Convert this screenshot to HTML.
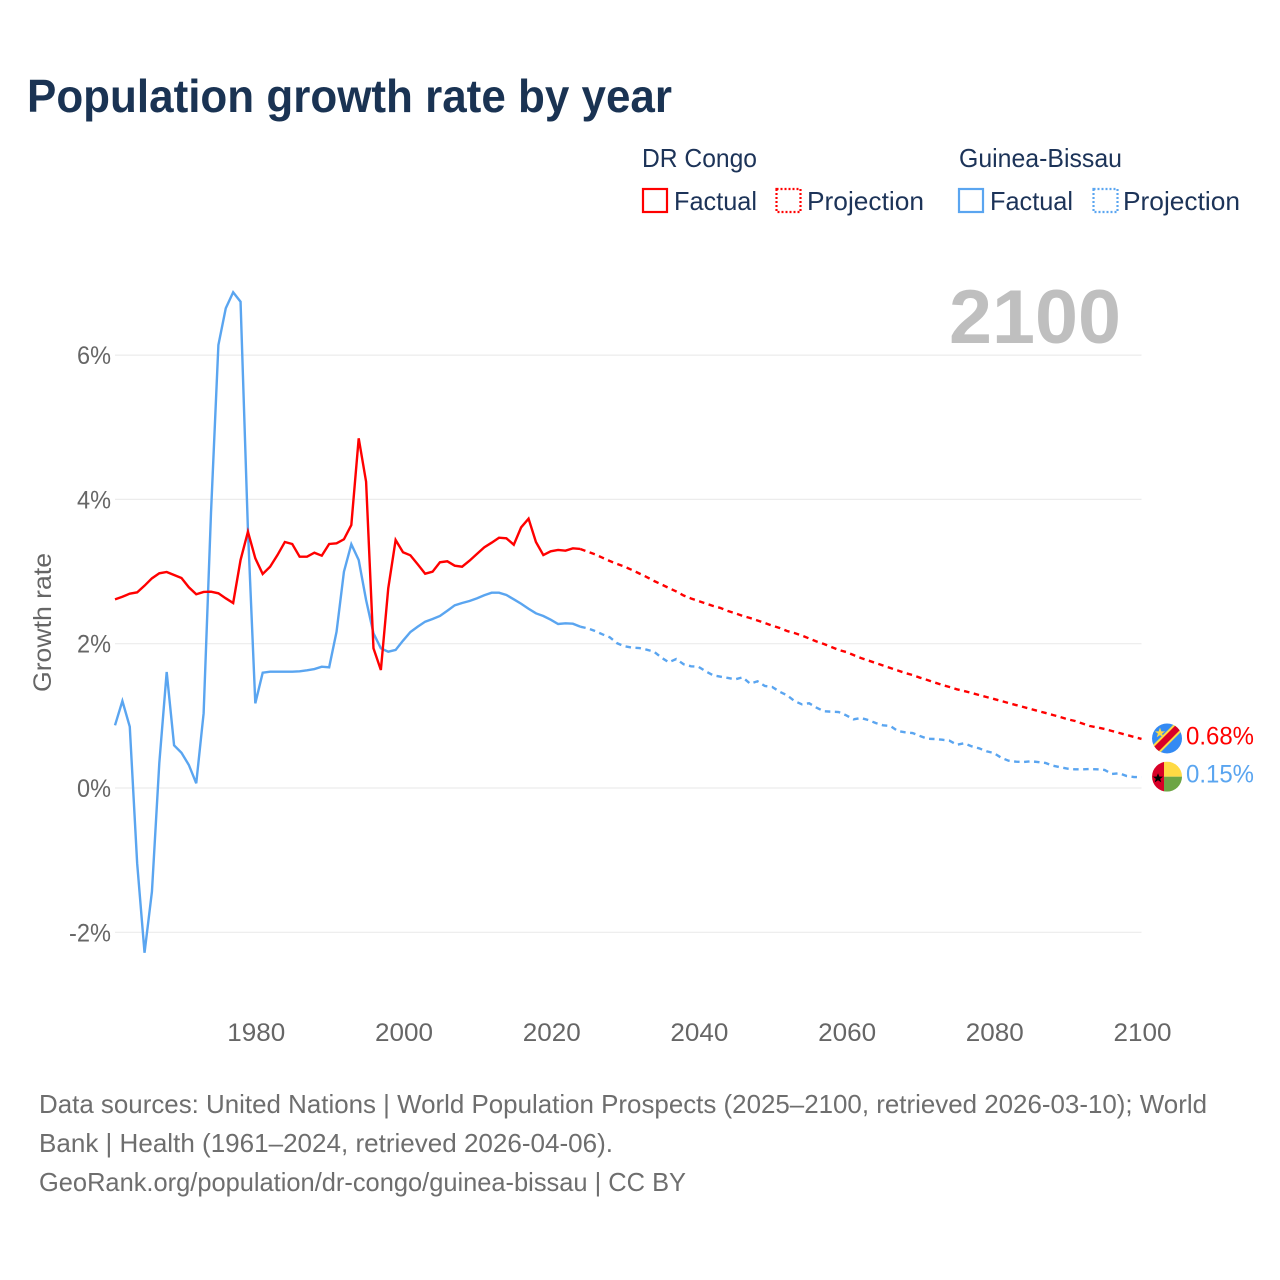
<!DOCTYPE html>
<html lang="en">
<head>
<meta charset="utf-8">
<title>Population growth rate by year</title>
<style>
  html, body { margin: 0; padding: 0; background: #fff; }
  svg { display: block; }
  text { font-family: "Liberation Sans", sans-serif; }
</style>
</head>
<body>
<svg id="chart" xmlns="http://www.w3.org/2000/svg" width="1280" height="1280" viewBox="0 0 1280 1280">
  <rect x="0" y="0" width="1280" height="1280" fill="#ffffff"/>
  <text x="27" y="112" font-size="46" font-weight="700" fill="#1a3353" textLength="645" lengthAdjust="spacingAndGlyphs">Population growth rate by year</text>

  <g font-size="26" fill="#1c3358">
    <text x="642" y="167" textLength="115" lengthAdjust="spacingAndGlyphs">DR Congo</text>
    <text x="959" y="167" textLength="163" lengthAdjust="spacingAndGlyphs">Guinea-Bissau</text>
    <rect x="643" y="189" width="24" height="23" fill="none" stroke="#ff0000" stroke-width="2.2"/>
    <text x="674" y="210" textLength="83" lengthAdjust="spacingAndGlyphs">Factual</text>
    <rect x="776.5" y="189" width="24" height="23" fill="none" stroke="#ff0000" stroke-width="2.2" stroke-dasharray="2 2"/>
    <text x="807" y="210" textLength="117" lengthAdjust="spacingAndGlyphs">Projection</text>
    <rect x="959" y="189" width="24" height="23" fill="none" stroke="#5aa5f0" stroke-width="2.2"/>
    <text x="990" y="210" textLength="83" lengthAdjust="spacingAndGlyphs">Factual</text>
    <rect x="1093.5" y="189" width="24" height="23" fill="none" stroke="#5aa5f0" stroke-width="2.2" stroke-dasharray="2 2"/>
    <text x="1123" y="210" textLength="117" lengthAdjust="spacingAndGlyphs">Projection</text>
  </g>

  <text transform="translate(51 622.5) rotate(-90)" text-anchor="middle" font-size="25" fill="#666666" textLength="139" lengthAdjust="spacingAndGlyphs">Growth rate</text>

  <g id="grid"></g>
  <text x="949" y="343" font-size="76" font-weight="700" fill="#bfbfbf" textLength="172" lengthAdjust="spacingAndGlyphs">2100</text>
  <g id="y-ticks"></g>
  <g id="x-ticks"></g>
  <g id="series"></g>
  <g id="end-markers"></g>

  <g font-size="26" fill="#6e6e6e">
    <text x="39" y="1113" textLength="1168" lengthAdjust="spacingAndGlyphs">Data sources: United Nations | World Population Prospects (2025–2100, retrieved 2026-03-10); World</text>
    <text x="39" y="1152" textLength="574" lengthAdjust="spacingAndGlyphs">Bank | Health (1961–2024, retrieved 2026-04-06).</text>
    <text x="39" y="1191" textLength="647" lengthAdjust="spacingAndGlyphs">GeoRank.org/population/dr-congo/guinea-bissau | CC BY</text>
  </g>
</svg>

<script>
const firstFactualYear = 1961;
const firstProjectionYear = 2025;
const xTickYears = [1980, 2000, 2020, 2040, 2060, 2080, 2100];
const yTickValues = [-2, 0, 2, 4, 6];

const drCongoFactual = [
  2.615, 2.651, 2.693, 2.712, 2.804, 2.906, 2.976, 2.994, 2.952, 2.911,
  2.782, 2.685, 2.717, 2.721, 2.699, 2.629, 2.564, 3.160, 3.552, 3.184,
  2.966, 3.067, 3.229, 3.410, 3.382, 3.206, 3.206, 3.261, 3.220, 3.382,
  3.392, 3.447, 3.645, 4.847, 4.245, 1.936, 1.635, 2.768, 3.437, 3.267,
  3.225, 3.100, 2.970, 2.998, 3.128, 3.142, 3.081, 3.067, 3.150, 3.243,
  3.336, 3.400, 3.469, 3.461, 3.372, 3.613, 3.733, 3.410, 3.229, 3.281,
  3.299, 3.289, 3.322, 3.313
];
const drCongoProjection = [
  3.275, 3.239, 3.192, 3.146, 3.105, 3.067, 3.022, 2.973, 2.924, 2.869,
  2.821, 2.772, 2.724, 2.668, 2.627, 2.592, 2.557, 2.523, 2.495, 2.453,
  2.421, 2.384, 2.356, 2.322, 2.287, 2.250, 2.218, 2.176, 2.148, 2.114,
  2.072, 2.030, 1.996, 1.954, 1.913, 1.885, 1.843, 1.802, 1.767, 1.733,
  1.698, 1.663, 1.629, 1.594, 1.566, 1.529, 1.497, 1.462, 1.428, 1.400,
  1.368, 1.344, 1.317, 1.289, 1.261, 1.234, 1.206, 1.178, 1.150, 1.123,
  1.095, 1.067, 1.040, 1.012, 0.984, 0.952, 0.929, 0.894, 0.859, 0.839,
  0.818, 0.790, 0.762, 0.735, 0.707, 0.68
];
const guineaBissauFactual = [
  0.869, 1.206, 0.850, -1.044, -2.283, -1.437, 0.347, 1.608, 0.592, 0.489,
  0.319, 0.065, 1.035, 3.812, 6.140, 6.649, 6.871, 6.740, 3.576, 1.174,
  1.598, 1.612, 1.612, 1.612, 1.612, 1.617, 1.631, 1.649, 1.681, 1.673,
  2.166, 2.998, 3.378, 3.160, 2.606, 2.144, 1.936, 1.889, 1.913, 2.042,
  2.162, 2.236, 2.305, 2.342, 2.384, 2.457, 2.532, 2.564, 2.592, 2.629,
  2.671, 2.707, 2.707, 2.675, 2.615, 2.554, 2.485, 2.421, 2.384, 2.333,
  2.273, 2.283, 2.277, 2.236
];
const guineaBissauProjection = [
  2.213, 2.176, 2.130, 2.089, 2.006, 1.964, 1.945, 1.940, 1.917, 1.889,
  1.806, 1.742, 1.788, 1.715, 1.687, 1.681, 1.617, 1.562, 1.543, 1.525,
  1.507, 1.534, 1.446, 1.479, 1.414, 1.400, 1.335, 1.285, 1.206, 1.160,
  1.174, 1.113, 1.063, 1.058, 1.053, 1.008, 0.952, 0.970, 0.942, 0.901,
  0.869, 0.859, 0.790, 0.772, 0.762, 0.721, 0.683, 0.679, 0.669, 0.656,
  0.600, 0.620, 0.578, 0.550, 0.509, 0.485, 0.420, 0.378, 0.365, 0.360,
  0.370, 0.360, 0.347, 0.309, 0.287, 0.268, 0.259, 0.259, 0.263, 0.259,
  0.250, 0.194, 0.204, 0.166, 0.152, 0.15
];

const SVG_NS = 'http://www.w3.org/2000/svg';
const RED = '#ff0000';
const BLUE = '#5aa5f0';

function xScale(year) { return 115 + (year - 1961) * 7.385; }
function yScale(value) { return 788 - value * 72.15; }
function make(tag) { return document.createElementNS(SVG_NS, tag); }

function linePath(values, startYear, lead) {
  const pts = [];
  if (lead) pts.push(xScale(lead.year).toFixed(2) + ',' + yScale(lead.value).toFixed(2));
  values.forEach(function (v, i) {
    pts.push(xScale(startYear + i).toFixed(2) + ',' + yScale(v).toFixed(2));
  });
  return 'M' + pts.join('L');
}

const gridGroup = document.getElementById('grid');
const yTickGroup = document.getElementById('y-ticks');
yTickValues.forEach(function (v) {
  const line = make('line');
  
  
  line.setAttribute('x1', 115);
  line.setAttribute('x2', xScale(2100));
  line.setAttribute('y1', yScale(v));
  line.setAttribute('y2', yScale(v));
  line.setAttribute('stroke', '#ececec');
  line.setAttribute('stroke-width', '1.2');
  gridGroup.appendChild(line);

  const label = make('text');
  
  
  const str = v + '%';
  label.setAttribute('x', 111);
  label.setAttribute('y', yScale(v) + 9);
  label.setAttribute('text-anchor', 'end');
  label.setAttribute('font-size', '25');
  label.setAttribute('fill', '#666666');
  label.setAttribute('textLength', str.length === 2 ? 34 : 42);
  label.setAttribute('lengthAdjust', 'spacingAndGlyphs');
  label.textContent = str;
  yTickGroup.appendChild(label);
});

const xTickGroup = document.getElementById('x-ticks');
xTickYears.forEach(function (year) {
  const label = make('text');
  
  
  label.setAttribute('x', xScale(year) + 1);
  label.setAttribute('y', 1041);
  label.setAttribute('text-anchor', 'middle');
  label.setAttribute('font-size', '25');
  label.setAttribute('fill', '#666666');
  label.setAttribute('textLength', 58);
  label.setAttribute('lengthAdjust', 'spacingAndGlyphs');
  label.textContent = String(year);
  xTickGroup.appendChild(label);
});

const seriesGroup = document.getElementById('series');
function addLine(name, d, color, dashed) {
  const path = make('path');
  
  
  path.setAttribute('d', d);
  path.setAttribute('fill', 'none');
  path.setAttribute('stroke', color);
  path.setAttribute('stroke-width', '2.4');
  path.setAttribute('stroke-linejoin', 'miter');
  if (dashed) path.setAttribute('stroke-dasharray', '5.5 4.5');
  seriesGroup.appendChild(path);
}
const lastFactualYear = firstFactualYear + drCongoFactual.length - 1;
addLine('guinea-bissau-factual-line', linePath(guineaBissauFactual, firstFactualYear), BLUE, false);
addLine('guinea-bissau-projection-line', linePath(guineaBissauProjection, firstProjectionYear, { year: lastFactualYear, value: guineaBissauFactual[guineaBissauFactual.length - 1] }), BLUE, true);
addLine('dr-congo-factual-line', linePath(drCongoFactual, firstFactualYear), RED, false);
addLine('dr-congo-projection-line', linePath(drCongoProjection, firstProjectionYear, { year: lastFactualYear, value: drCongoFactual[drCongoFactual.length - 1] }), RED, true);

const markers = document.getElementById('end-markers');
const endYear = firstProjectionYear + drCongoProjection.length - 1;
const flagX = xScale(endYear) + 25.5;

function addEndLabel(name, value, color) {
  const label = make('text');
  
  
  label.setAttribute('x', 1186);
  label.setAttribute('y', yScale(value) + 5.5);
  label.setAttribute('font-size', '25');
  label.setAttribute('fill', color);
  label.setAttribute('textLength', 68);
  label.setAttribute('lengthAdjust', 'spacingAndGlyphs');
  label.textContent = value.toFixed(2) + '%';
  markers.appendChild(label);
}

const drEnd = drCongoProjection[drCongoProjection.length - 1];
const gbEnd = guineaBissauProjection[guineaBissauProjection.length - 1];

const drFlag = make('g');


drFlag.setAttribute('transform', 'translate(' + flagX + ' ' + (yScale(drEnd) - 0.5) + ')');
drFlag.innerHTML =
  '<clipPath id="dr-clip"><circle r="15"/></clipPath>' +
  '<g clip-path="url(#dr-clip)">' +
  '<rect x="-15" y="-15" width="30" height="30" fill="#338af3"/>' +
  '<line x1="-16" y1="16" x2="16" y2="-16" stroke="#ffda44" stroke-width="10.5"/>' +
  '<line x1="-16" y1="16" x2="16" y2="-16" stroke="#d80027" stroke-width="6.5"/>' +
  '<polygon points="-7.4,-12 -6,-8 -2,-8 -5.2,-5.6 -4,-1.8 -7.4,-4 -10.8,-1.8 -9.6,-5.6 -12.8,-8 -8.8,-8" fill="#ffda44" transform="translate(0 0.5) scale(0.95)"/>' +
  '</g>';
markers.appendChild(drFlag);

const gbFlag = make('g');


gbFlag.setAttribute('transform', 'translate(' + flagX + ' ' + (yScale(gbEnd) - 0.5) + ')');
gbFlag.innerHTML =
  '<clipPath id="gb-clip"><circle r="15"/></clipPath>' +
  '<g clip-path="url(#gb-clip)">' +
  '<rect x="-3" y="-15" width="18" height="15" fill="#ffda44"/>' +
  '<rect x="-3" y="0" width="18" height="15" fill="#6da544"/>' +
  '<rect x="-15" y="-15" width="12" height="30" fill="#d80027"/>' +
  '<polygon points="-9,-3.4 -7.6,0 -4,0 -6.8,2.2 -5.8,5.6 -9,3.6 -12.2,5.6 -11.2,2.2 -14,0 -10.4,0" fill="#000000"/>' +
  '</g>';
markers.appendChild(gbFlag);

addEndLabel('dr-congo-end-value', drEnd, RED);
addEndLabel('guinea-bissau-end-value', gbEnd, BLUE);
</script>
</body>
</html>
